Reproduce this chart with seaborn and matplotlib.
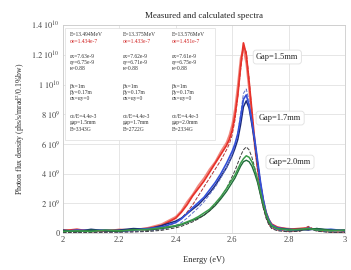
import numpy as np
import pandas as pd
import seaborn as sns
import matplotlib.pyplot as plt
from matplotlib.patches import Rectangle

# photon energy grid (eV)
energy = [2.00, 2.05, 2.10, 2.15, 2.20, 2.25, 2.30, 2.35,
          2.40, 2.42, 2.44, 2.46, 2.48, 2.50, 2.52, 2.54, 2.56,
          2.58, 2.59, 2.60, 2.61, 2.62, 2.63, 2.64, 2.65, 2.66, 2.67, 2.68,
          2.69, 2.70, 2.71, 2.72, 2.73, 2.74,
          2.76, 2.80, 2.84, 2.87, 2.90, 2.95, 3.00]

# flux values in units of 1e9 phs/s/mrad^2/0.1%bw
red_meas1 = [0.15, 0.25, 0.10, 0.20, 0.15, 0.25, 0.30, 0.50,
             1.0, 1.4, 1.9, 2.5, 3.0, 3.5, 4.1, 4.7, 5.3,
             5.9, 6.3, 6.9, 7.9, 9.3, 11.2, 12.8, 12.0, 10.2, 8.2, 6.2,
             4.6, 3.3, 2.2, 1.4, 0.9, 0.6,
             0.4, 0.25, 0.3, 0.35, 0.2, 0.2, 0.15]
red_meas2 = [0.20, 0.15, 0.20, 0.10, 0.25, 0.20, 0.35, 0.60,
             1.1, 1.5, 2.1, 2.6, 3.2, 3.7, 4.3, 4.8, 5.5,
             6.1, 6.6, 7.3, 8.4, 10.0, 11.8, 12.4, 11.4, 9.6, 7.6, 5.8,
             4.3, 3.0, 2.0, 1.3, 0.8, 0.5,
             0.35, 0.3, 0.2, 0.3, 0.25, 0.15, 0.2]
red_calc = [0.05, 0.05, 0.06, 0.07, 0.08, 0.10, 0.15, 0.30,
            0.7, 1.0, 1.4, 1.9, 2.5, 3.1, 3.7, 4.3, 4.9,
            5.6, 6.0, 6.6, 7.6, 9.2, 11.0, 12.6, 12.2, 10.4, 8.2, 6.0,
            4.2, 2.8, 1.8, 1.1, 0.6, 0.35,
            0.2, 0.1, 0.15, 0.45, 0.15, 0.05, 0.05]

blue_meas1 = [0.10, 0.20, 0.15, 0.20, 0.10, 0.20, 0.30, 0.40,
              0.7, 0.95, 1.3, 1.7, 2.05, 2.4, 2.9, 3.4, 4.0,
              4.7, 5.1, 5.5, 6.0, 6.7, 7.8, 9.0, 9.3, 8.6, 7.5, 6.3,
              4.9, 3.5, 2.3, 1.4, 0.9, 0.55,
              0.35, 0.25, 0.2, 0.3, 0.2, 0.25, 0.15]
blue_meas2 = [0.20, 0.10, 0.25, 0.15, 0.20, 0.30, 0.25, 0.50,
              0.8, 1.0, 1.3, 1.6, 1.9, 2.3, 2.7, 3.2, 3.8,
              4.4, 4.8, 5.2, 5.7, 6.3, 7.3, 8.5, 8.9, 8.4, 7.3, 6.1,
              4.7, 3.3, 2.2, 1.3, 0.8, 0.5,
              0.3, 0.2, 0.25, 0.2, 0.3, 0.15, 0.2]
blue_calc = [0.04, 0.05, 0.05, 0.06, 0.07, 0.09, 0.12, 0.22,
             0.5, 0.7, 1.0, 1.35, 1.7, 2.1, 2.6, 3.1, 3.7,
             4.4, 4.8, 5.3, 5.9, 6.7, 8.0, 9.4, 9.7, 8.9, 7.6, 6.2,
             4.6, 3.2, 2.0, 1.2, 0.7, 0.35,
             0.2, 0.1, 0.15, 0.4, 0.15, 0.05, 0.05]

green_meas1 = [0.10, 0.15, 0.10, 0.20, 0.15, 0.20, 0.25, 0.35,
               0.5, 0.6, 0.75, 0.9, 1.1, 1.35, 1.6, 2.0, 2.45,
               3.0, 3.3, 3.6, 3.9, 4.3, 4.7, 5.0, 5.2, 5.1, 4.8, 4.3,
               3.6, 2.8, 2.0, 1.3, 0.8, 0.5,
               0.3, 0.2, 0.25, 0.3, 0.2, 0.15, 0.2]
green_meas2 = [0.15, 0.10, 0.20, 0.15, 0.10, 0.25, 0.20, 0.30,
               0.45, 0.55, 0.7, 0.85, 1.0, 1.2, 1.5, 1.85, 2.3,
               2.8, 3.1, 3.4, 3.7, 4.1, 4.5, 4.8, 4.9, 4.8, 4.5, 4.0,
               3.4, 2.6, 1.8, 1.2, 0.7, 0.45,
               0.3, 0.25, 0.2, 0.25, 0.3, 0.2, 0.15]
green_calc = [0.03, 0.04, 0.04, 0.05, 0.06, 0.07, 0.10, 0.18,
              0.35, 0.45, 0.6, 0.75, 0.95, 1.2, 1.5, 1.9, 2.4,
              3.0, 3.4, 3.8, 4.2, 4.7, 5.2, 5.6, 5.8, 5.6, 5.1, 4.4,
              3.5, 2.6, 1.7, 1.0, 0.55, 0.3,
              0.15, 0.08, 0.12, 0.35, 0.12, 0.04, 0.04]

gap_labels = ["Gap=1.5mm", "Gap=1.7mm", "Gap=2.0mm"]
gap_label_pos = [(2.76, 1.185e10), (2.77, 0.774e10), (2.805, 0.478e10)]

yticks = [0, 2e9, 4e9, 6e9, 8e9, 1e10, 1.2e10, 1.4e10]
ytick_labels = ["0", r"$2\ 10^{9}$", r"$4\ 10^{9}$", r"$6\ 10^{9}$",
                r"$8\ 10^{9}$", r"$1\ 10^{10}$", r"$1.2\ 10^{10}$",
                r"$1.4\ 10^{10}$"]

# beam parameter text columns (second line drawn in red)
param_cols = [
    ["E=13.494MeV", "σe=1.434e-7", "εx=7.63e-9", "εy=6.75e-9", "κ=0.88",
     "βx=1m", "βy=0.17m", "αx=αy=0", "σε/E=4.4e-3", "gap=1.5mm", "B=3343G"],
    ["E=13.375MeV", "σe=1.433e-7", "εx=7.62e-9", "εy=6.71e-9", "κ=0.88",
     "βx=1m", "βy=0.17m", "αx=αy=0", "σε/E=4.4e-3", "gap=1.7mm", "B=2722G"],
    ["E=13.576MeV", "σe=1.451e-7", "εx=7.61e-9", "εy=6.75e-9", "κ=0.88",
     "βx=1m", "βy=0.17m", "αx=αy=0", "σε/E=4.4e-3", "gap=2.0mm", "B=2334G"],
]
# vertical placement of each text line (axes fraction)
line_y = [0.957, 0.923, 0.851, 0.822, 0.793, 0.707, 0.676, 0.645,
          0.560, 0.530, 0.500]

sns.set_style("whitegrid")
plt.rcParams["font.family"] = ["Liberation Serif", "DejaVu Serif"]
plt.rcParams["mathtext.fontset"] = "stix"

fig = plt.figure(figsize=(3.51, 2.70), dpi=100)
ax = fig.add_axes([0.179, 0.137, 0.804, 0.770])

series = [
    (red_meas2, "#f08a80", "-", 1.2),
    (red_calc, "#b03030", "--", 0.7),
    (red_meas1, "#e8322a", "-", 1.3),
    (blue_meas2, "#1c2a7a", "-", 1.1),
    (blue_calc, "#6070c8", "--", 0.7),
    (blue_meas1, "#3450d8", "-", 1.2),
    (green_meas2, "#1f6b3a", "-", 1.0),
    (green_calc, "#404040", "--", 0.7),
    (green_meas1, "#3a9a4a", "-", 1.1),
]
for vals, col, ls, lw in series:
    sns.lineplot(x=energy, y=np.array(vals) * 1e9, ax=ax, color=col,
                 linestyle=ls, linewidth=lw, zorder=3)

ax.set_xlim(2, 3)
ax.set_ylim(0, 1.4e10)
ax.set_xticks([2, 2.2, 2.4, 2.6, 2.8, 3])
ax.set_xticklabels(["2", "2.2", "2.4", "2.6", "2.8", "3"])
ax.set_yticks(yticks)
ax.set_yticklabels(ytick_labels)
ax.tick_params(labelsize=6, colors="#444444", length=0, pad=2)
ax.grid(color="#e2e2e2", linewidth=0.6)
for sp in ax.spines.values():
    sp.set_color("#cccccc")
    sp.set_linewidth(0.6)

ax.set_title("Measured and calculated spectra", fontsize=6.5, pad=5)
ax.set_xlabel("Energy (eV)", fontsize=6, labelpad=9)
ax.set_ylabel("Photon flux density (phs/s/mrad$^2$/0.1%bw)", fontsize=5.5,
              labelpad=3)

# parameter box
ax.add_patch(Rectangle((0.007, 0.447), 0.533, 0.539, transform=ax.transAxes,
                       facecolor="white", edgecolor="#dddddd", linewidth=0.5,
                       zorder=2))
col_x = [0.025, 0.213, 0.387]
for cx, lines in zip(col_x, param_cols):
    for i, (line, ly) in enumerate(zip(lines, line_y)):
        ax.text(cx, ly, line, transform=ax.transAxes, fontsize=4,
                color="#d02020" if i == 1 else "#333333",
                va="center", ha="left", zorder=4)

for lab, (gx, gy) in zip(gap_labels, gap_label_pos):
    ax.text(gx, gy, lab, fontsize=6, ha="center", va="center", zorder=5,
            bbox=dict(boxstyle="round,pad=0.35", fc="white", ec="#e0e0e0",
                      lw=0.6))

fig.savefig("out.png", dpi=100)
